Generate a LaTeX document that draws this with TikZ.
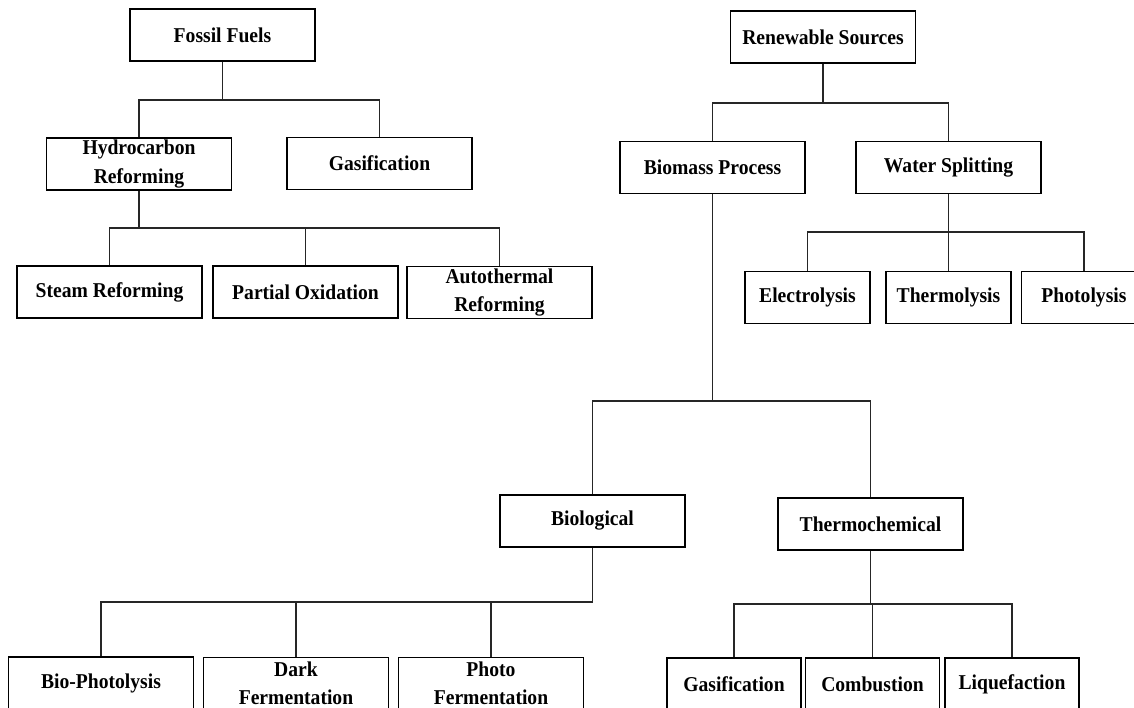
\documentclass[tikz,border=0pt]{standalone}
\usepackage{fontspec}
\setmainfont{Liberation Serif}[FakeStretch=0.93]
\usepackage{tikz}
\usetikzlibrary{positioning}

\begin{document}
\begin{tikzpicture}[x=0.025cm,y=-0.025cm,
    box/.style={draw, line width=1pt, minimum width=4.625cm, minimum height=1.3cm, inner sep=0pt, align=center, font=\fontsize{15}{20}\selectfont\bfseries},
    wbox/.style={box, minimum width=3.125cm},
    tbox/.style={box, minimum width=3.35cm},
    link/.style={line width=0.9pt, black!85}]
    \useasboundingbox (0,0) rectangle (1134,708);
    \node[box] at (222.5,35) (ff) {Fossil Fuels};
    \node[box] at (139,164) (hr) {Hydrocarbon\\Reforming};
    \node[box] at (379.5,163.5) (gs) {Gasification};
    \node[box] at (109.5,292) (sr) {Steam Reforming};
    \node[box] at (305.5,292) (po) {Partial Oxidation};
    \node[box] at (499.5,292.5) (at) {Autothermal\\Reforming};
    \node[box] at (823,37) (rs) {Renewable Sources};
    \node[box] at (712.5,167.5) (bp) {Biomass Process};
    \node[box] at (948.5,167.5) (ws) {Water Splitting};
    \node[wbox] at (807.5,297.5) (el) {Electrolysis};
    \node[wbox] at (948.5,297.5) (th) {Thermolysis};
    \node[wbox] at (1084,297.5) (ph) {Photolysis};
    \node[box] at (592.5,521) (bl) {Biological};
    \node[box] at (870.5,524) (tc) {Thermochemical};
    \node[box] at (101,683) (bph) {Bio-Photolysis};
    \node[box] at (296,683.5) (df) {Dark\\Fermentation};
    \node[box] at (491,683.5) (pf) {Photo\\Fermentation};
    \node[tbox] at (734,684) (gc) {Gasification};
    \node[tbox] at (872.5,684) (cb) {Combustion};
    \node[tbox] at (1012,684) (lq) {Liquefaction};
    \coordinate (j1) at (222.5,100);
    \coordinate (j2) at (139,228);
    \coordinate (j3) at (823,103);
    \coordinate (j4) at (948.5,232);
    \coordinate (j5) at (712.5,401);
    \coordinate (j6) at (592.5,602);
    \coordinate (j7) at (870.5,604);
    \draw[link] (ff) -- (j1) (j1) -| (hr) (j1) -| (gs);
    \draw[link] (hr) -- (j2) (j2) -| (sr) (j2) -| (po) (j2) -| (at);
    \draw[link] (rs) -- (j3) (j3) -| (bp) (j3) -| (ws);
    \draw[link] (ws) -- (j4) (j4) -| (el) (j4) -| (th) (j4) -| (ph);
    \draw[link] (bp) -- (j5) (j5) -| (bl) (j5) -| (tc);
    \draw[link] (bl) -- (j6) (j6) -| (bph) (j6) -| (df) (j6) -| (pf);
    \draw[link] (tc) -- (j7) (j7) -| (gc) (j7) -| (cb) (j7) -| (lq);
\end{tikzpicture}
\end{document}
